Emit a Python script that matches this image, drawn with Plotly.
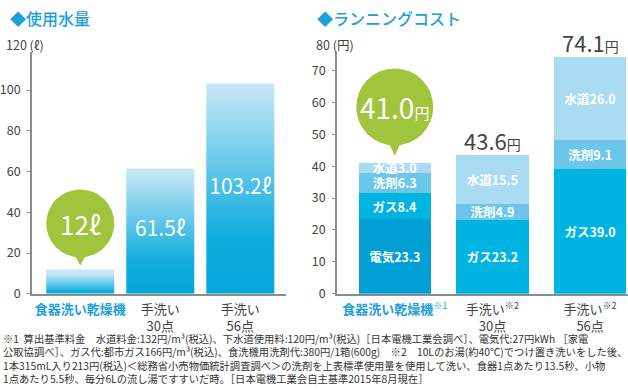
import plotly.graph_objects as go

# ---------------- data ----------------
water_x = [0, 1, 2]
water_values = [12, 61.5, 103.2]
water_bar_text = ["", "61.5ℓ", "103.2ℓ"]
water_bubble_text = "12ℓ"
water_ticktext = ["<span style='color:#1e9fd9'><b>食器洗い乾燥機</b></span>",
                  "手洗い<br>30点", "手洗い<br>56点"]
water_yticks = [0, 20, 40, 60, 80, 100, 120]

cost_x = [0, 1, 2]
cost_electric = [23.3, 0, 0]
cost_gas = [8.4, 23.2, 39.0]
cost_detergent = [6.3, 4.9, 9.1]
cost_water = [3.0, 15.5, 26.0]
cost_ticktext = ["<span style='color:#1e9fd9'><b>食器洗い乾燥機</b><sup>※1</sup></span>",
                 "手洗い<sup>※2</sup><br>30点", "手洗い<sup>※2</sup><br>56点"]
cost_yticks = [0, 10, 20, 30, 40, 50, 60, 70, 80]

footnotes = [
    "※1  算出基準料金　水道料金:132円/m³(税込)、下水道使用料:120円/m³(税込)［日本電機工業会調べ］、電気代:27円kWh ［家電",
    "公取協調べ］、ガス代:都市ガス166円/m³(税込)、食洗機用洗剤代:380円/1箱(600g)　※2　10Lのお湯(約40℃)でつけ置き洗いをした後、",
    "1本315mL入り213円(税込)＜総務省小売物価統計調査調べ＞の洗剤を上表標準使用量を使用して洗い、食器1点あたり13.5秒、小物",
    "1点あたり5.5秒、毎分6Lの流し湯ですすいだ時。［日本電機工業会自主基準2015年8月現在］",
]

# ---------------- style ----------------
W, H = 628, 391
FONT = "Noto Sans CJK JP"
BLUE = "#1e9fd9"
GREEN = "#a0c43c"
AXIS = "#8c8c8c"
TXT = "#444444"
C_ELEC, C_GAS, C_DET, C_WAT = "#00a0d6", "#00b4e2", "#6bc6ea", "#a9dcf2"
LEFT_BAR_W = 0.85
RIGHT_BAR_W = 0.74
Y0_PX = 300           # pixel row of value 0
TOP_PX = 53           # top of the axis lines
L_SCALE = 2.08        # px per litre
R_SCALE = 3.26        # px per yen
L_TOP = (Y0_PX - TOP_PX) / L_SCALE
R_TOP = (Y0_PX - TOP_PX) / R_SCALE

fig = go.Figure()

# left: gradient bars as filled polygons computed from the values
for xi, v in zip(water_x, water_values):
    h = LEFT_BAR_W / 2
    fig.add_trace(go.Scatter(
        x=[xi - h, xi - h, xi + h, xi + h, xi - h], y=[0, v, v, 0, 0],
        mode="lines", line=dict(width=0), fill="toself",
        fillgradient=dict(type="vertical", start=0, stop=v,
                          colorscale=[[0, "#00a6da"], [0.3, "#12addf"], [1, "#c8e8f6"]]),
        xaxis="x", yaxis="y", hoverinfo="skip", showlegend=False))

idx = [i for i, t in enumerate(water_bar_text) if t]
fig.add_trace(go.Scatter(
    x=[water_x[i] for i in idx], y=[water_values[i] / 2 for i in idx],
    text=[water_bar_text[i] for i in idx], mode="text",
    textfont=dict(family=FONT, size=21, color="white"), xaxis="x", yaxis="y",
    showlegend=False, hoverinfo="skip"))

# right: stacked bars
def seg(name, vals, color):
    xs = [x for x, v in zip(cost_x, vals) if v]
    vs = [v for v in vals if v]
    return go.Bar(
        x=xs, y=vs, name=name, marker=dict(color=color, line=dict(width=0)),
        width=RIGHT_BAR_W,
        text=[f"{name}{v:.1f}" for v in vs],
        textposition="inside", insidetextanchor="middle", constraintext="none",
        textangle=0, textfont=dict(family=FONT, size=12.5, color="white", weight="bold"),
        xaxis="x2", yaxis="y2", showlegend=False)

fig.add_trace(seg("電気", cost_electric, C_ELEC))
fig.add_trace(seg("ガス", cost_gas, C_GAS))
fig.add_trace(seg("洗剤", cost_detergent, C_DET))
fig.add_trace(seg("水道", cost_water, C_WAT))

totals = [round(a + b + c + d, 1) for a, b, c, d in zip(cost_electric, cost_gas, cost_detergent, cost_water)]

annotations = []
shapes = []

# total labels above hand-wash bars
for xi, t in zip(cost_x[1:], totals[1:]):
    annotations.append(dict(
        x=xi, y=t, xref="x2", yref="y2", yanchor="middle", yshift=15, showarrow=False,
        text=f"{t:.1f}<span style='font-size:14px'>円</span>",
        font=dict(family=FONT, size=22, color=TXT)))

# bubbles
def bubble(xref, yref, xv, yv, r, off, tip, text, size):
    shapes.append(dict(type="circle", xref=xref, yref=yref, xsizemode="pixel", ysizemode="pixel",
                       xanchor=xv, yanchor=yv, x0=-r, x1=r, y0=off - r, y1=off + r,
                       fillcolor=GREEN, line=dict(width=0), layer="above"))
    b = off - r + 3
    shapes.append(dict(type="path", xref=xref, yref=yref, xsizemode="pixel", ysizemode="pixel",
                       xanchor=xv, yanchor=yv, path=f"M -6,{b} L 6,{b} L 0,{tip} Z",
                       fillcolor=GREEN, line=dict(width=0), layer="above"))
    annotations.append(dict(x=xv, y=yv, xref=xref, yref=yref, yanchor="middle", yshift=off,
                            showarrow=False, text=text,
                            font=dict(family=FONT, size=size, color="white")))

bubble("x", "y", water_x[0], water_values[0], 34, 46, 4, water_bubble_text, 26)
bubble("x2", "y2", cost_x[0], totals[0], 38.5, 56, 7,
       f"{totals[0]:.1f}<span style='font-size:15px'>円</span>", 28)

# titles
annotations.append(dict(x=6 / W, y=1 - 18 / H, xref="paper", yref="paper", xanchor="left",
                        yanchor="middle", showarrow=False, text="◆使用水量",
                        font=dict(family=FONT, size=16, color=BLUE, weight=500)))
annotations.append(dict(x=314 / W, y=1 - 18 / H, xref="paper", yref="paper", xanchor="left",
                        yanchor="middle", showarrow=False, text="◆ランニングコスト",
                        font=dict(family=FONT, size=16, color=BLUE, weight=500)))
# top tick labels with units (above the end of the axis line)
annotations.append(dict(x=2 / W, y=1 - 45 / H, xref="paper", yref="paper", xanchor="left",
                        yanchor="middle", showarrow=False,
                        text=f"{water_yticks[-1]} (ℓ)",
                        font=dict(family=FONT, size=12.5, color=TXT)))
annotations.append(dict(x=313 / W, y=1 - 45 / H, xref="paper", yref="paper", xanchor="left",
                        yanchor="middle", showarrow=False,
                        text=f"{cost_yticks[-1]} (円)",
                        font=dict(family=FONT, size=12.5, color=TXT)))
# footnotes (one block)
annotations.append(dict(x=0, y=1 - 365.5 / H, xref="paper", yref="paper",
                        xanchor="left", yanchor="middle", align="left", showarrow=False,
                        borderpad=0, text="<br>".join(footnotes),
                        font=dict(family=FONT, size=10.3, color="#333333")))

axis_common = dict(showline=True, linecolor=AXIS, linewidth=1.5, showgrid=False, zeroline=False,
                   tickfont=dict(family=FONT, size=13, color=TXT))

fig.update_layout(
    width=W, height=H, margin=dict(l=0, r=0, t=0, b=0),
    paper_bgcolor="white", plot_bgcolor="white", barmode="stack", showlegend=False,
    font=dict(family=FONT, color=TXT),
    xaxis=dict(domain=[30 / W, 285 / W], range=[-0.604, 2.572], tickvals=water_x,
               ticktext=water_ticktext, ticks="", ticklabelstandoff=3, anchor="y", **axis_common),
    yaxis=dict(domain=[(H - Y0_PX) / H, (H - TOP_PX) / H], range=[0, L_TOP],
               tickvals=water_yticks[:-1], ticklabelstandoff=4,
               ticks="outside", ticklen=3, tickcolor=AXIS, anchor="x", **axis_common),
    xaxis2=dict(domain=[336 / W, 1.0], range=[-0.592, 2.388], tickvals=cost_x,
                ticktext=cost_ticktext, ticks="", ticklabelstandoff=3, anchor="y2", **axis_common),
    yaxis2=dict(domain=[(H - Y0_PX) / H, (H - TOP_PX) / H], range=[0, R_TOP],
                tickvals=cost_yticks[:-1], ticklabelstandoff=4,
                ticks="outside", ticklen=3, tickcolor=AXIS, anchor="x2", **axis_common),
    annotations=annotations, shapes=shapes,
)
fig.update_yaxes(tickfont=dict(size=12.5))

fig.write_html("out.html", config={"displayModeBar": False},
               post_script="document.body.style.margin='0';")
